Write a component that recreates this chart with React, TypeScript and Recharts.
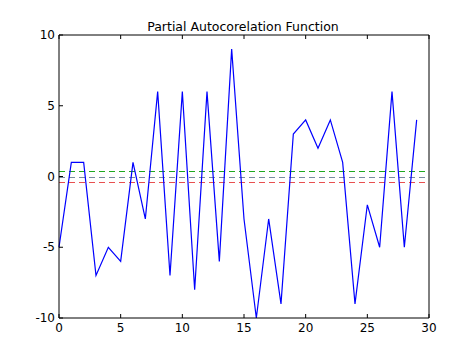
import { LineChart, Line, XAxis, YAxis, ReferenceLine } from "recharts";

// lag index and the partial autocorrelation values
const lags = [0, 1, 2, 3, 4, 5, 6, 7, 8, 9, 10, 11, 12, 13, 14, 15, 16, 17, 18, 19, 20, 21, 22, 23, 24, 25, 26, 27, 28, 29];
const pacf = [-5, 1, 1, -7, -5, -6, 1, -3, 6, -7, 6, -8, 6, -6, 9, -3, -10, -3, -9, 3, 4, 2, 4, 1, -9, -2, -5, 6, -5, 4];
const xTicks = [0, 5, 10, 15, 20, 25, 30];
const yTicks = [-10, -5, 0, 5, 10];
const upperBound = 0.36;
const lowerBound = -0.36;

const data = lags.map((lag, i) => ({ lag, value: pacf[i] }));

const font = "DejaVu Sans, sans-serif";

const BottomTick = (props: any) => {
  const { x, y, payload } = props;
  return (
    <g>
      <line x1={x} y1={y} x2={x} y2={y - 4} stroke="#000" />
      <text x={x} y={y + 14} textAnchor="middle" fontSize={12} fontFamily={font} fill="#000">
        {payload.value}
      </text>
    </g>
  );
};

const TopTick = (props: any) => {
  const { x, y } = props;
  return <line x1={x} y1={y} x2={x} y2={y + 4} stroke="#000" />;
};

const LeftTick = (props: any) => {
  const { x, y, payload } = props;
  return (
    <g>
      <line x1={x} y1={y} x2={x + 4} y2={y} stroke="#000" />
      <text x={x - 4} y={y + 4} textAnchor="end" fontSize={12} fontFamily={font} fill="#000">
        {payload.value}
      </text>
    </g>
  );
};

const RightTick = (props: any) => {
  const { x, y } = props;
  return <line x1={x} y1={y} x2={x - 4} y2={y} stroke="#000" />;
};

// dashed horizontal line with an explicit colour, snapped to the pixel grid
const dashed = (color: string) => (props: any) => {
  const y = Math.round(props.y1) + 0.5;
  return (
    <line
      x1={props.x1}
      y1={y}
      x2={props.x2}
      y2={y}
      stroke={color}
      strokeWidth={1}
      strokeDasharray="6 4"
    />
  );
};

export default function App() {
  return (
    <div style={{ position: "absolute", left: 0, top: 0, width: 474, height: 353, background: "#fff" }}>
      <LineChart width={474} height={353} data={data} margin={{ top: 34, right: 44, bottom: 34, left: 58 }}>
        <text x={243} y={31} textAnchor="middle" fontSize={12.5} fontFamily={font} fill="#000">
          Partial Autocorelation Function
        </text>
        <XAxis
          dataKey="lag"
          type="number"
          domain={[0, 30]}
          ticks={xTicks}
          height={1}
          tickSize={0}
          tickMargin={0}
          tickLine={false}
          axisLine={{ stroke: "#000" }}
          tick={<BottomTick />}
          interval={0}
        />
        <XAxis
          xAxisId="top"
          orientation="top"
          dataKey="lag"
          type="number"
          domain={[0, 30]}
          ticks={xTicks}
          height={1}
          tickSize={0}
          tickMargin={0}
          tickLine={false}
          axisLine={{ stroke: "#000" }}
          tick={<TopTick />}
          interval={0}
        />
        <YAxis
          type="number"
          domain={[-10, 10]}
          ticks={yTicks}
          width={1}
          tickSize={0}
          tickMargin={0}
          tickLine={false}
          axisLine={{ stroke: "#000" }}
          tick={<LeftTick />}
          interval={0}
        />
        <YAxis
          yAxisId="right"
          orientation="right"
          type="number"
          domain={[-10, 10]}
          ticks={yTicks}
          width={1}
          tickSize={0}
          tickMargin={0}
          tickLine={false}
          axisLine={{ stroke: "#000" }}
          tick={<RightTick />}
          interval={0}
        />
        <ReferenceLine y={upperBound} shape={dashed("#1fa81f")} />
        <ReferenceLine y={0} shape={dashed("#7a8aa0")} />
        <ReferenceLine y={lowerBound} shape={dashed("#e85050")} />
        <Line
          dataKey="value"
          stroke="#0000ff"
          strokeWidth={1.2}
          dot={false}
          isAnimationActive={false}
        />
      </LineChart>
    </div>
  );
}
